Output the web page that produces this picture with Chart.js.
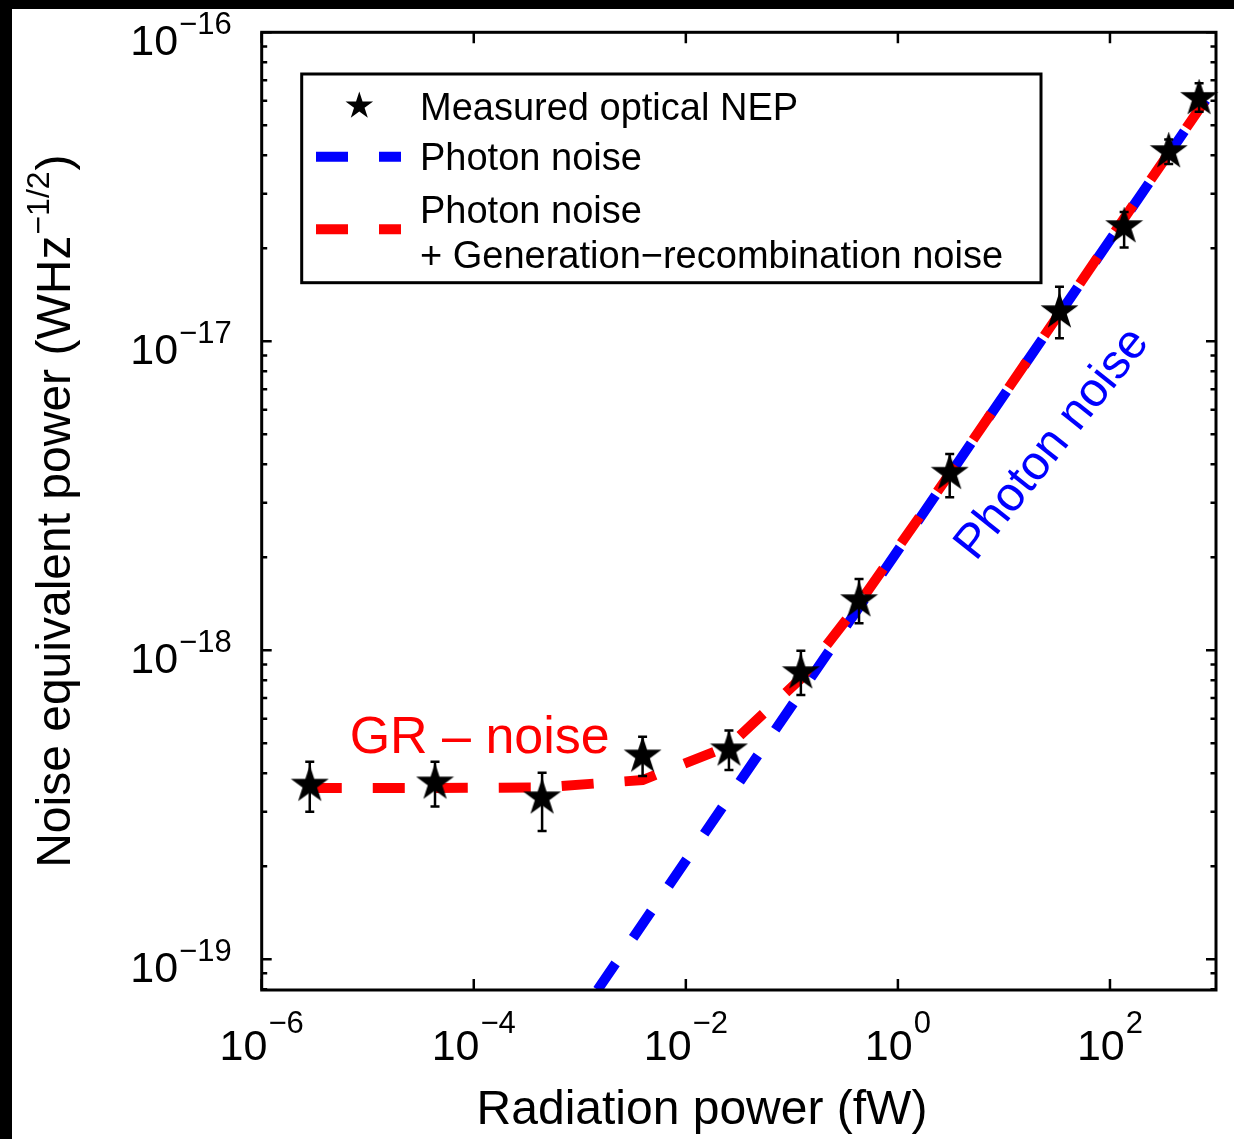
<!DOCTYPE html>
<html>
<head>
<meta charset="utf-8">
<title>Optical NEP</title>
<script src="https://cdn.jsdelivr.net/npm/chart.js@4.4.0/dist/chart.umd.min.js"></script>
<style>
  html, body { margin: 0; padding: 0; background: #fff; overflow: hidden; width: 1234px; height: 1139px; }
  #nepChart { position: absolute; left: 0; top: 0; width: 1234px; height: 1139px; display: block; }
</style>
</head>
<body>
<canvas id="nepChart" width="1234" height="1139"></canvas>
<script>
// measured optical NEP, radiation power in fW, NEP in W/Hz^0.5
const powerFW = [2.84e-6, 4.31e-5, 4.41e-4, 3.91e-3, 0.0255, 0.1216, 0.43, 3.08, 33.4, 136, 358, 693];
const nepMeasured = [3.66e-19, 3.72e-19, 3.33e-19, 4.55e-19, 4.76e-19, 8.46e-19, 1.447e-18, 3.74e-18, 1.247e-17, 2.35e-17, 4.11e-17, 6.11e-17];
const nepErrHigh = [4.36e-19, 4.36e-19, 4.01e-19, 5.25e-19, 5.5e-19, 9.97e-19, 1.70e-18, 4.32e-18, 1.5e-17, 2.62e-17, 4.5e-17, 6.84e-17];
const nepErrLow = [3.0e-19, 3.12e-19, 2.6e-19, 3.92e-19, 4.1e-19, 7.17e-19, 1.223e-18, 3.13e-18, 1.023e-17, 2.01e-17, 3.75e-17, 5.53e-17];

// photon noise only
const photonPower = [1.47e-3, 800];
const photonNep = [7.96e-20, 6.04e-17];

// photon noise + generation-recombination noise
const totalPower = [2.84e-6, 4.31e-5, 4.41e-4, 3.91e-3, 0.0255, 0.1216, 0.43, 3.08, 33.4, 136, 358, 800];
const totalNep = [3.58e-19, 3.58e-19, 3.6e-19, 3.8e-19, 4.9e-19, 8.1e-19, 1.42e-18, 3.72e-18, 1.23e-17, 2.5e-17, 4.05e-17, 6.06e-17];

// axis ticks (exponents of ten)
const xTickExps = [-6, -4, -2, 0, 2];
const yTickExps = [-19, -18, -17, -16];
const xTickLabels = ["\u22126", "\u22124", "\u22122", "0", "2"];
const yTickLabels = ["\u221219", "\u221218", "\u221217", "\u221216"];

const FONT = "'Liberation Sans', Arial, Helvetica, sans-serif";

function starPath(g, cx, cy, R) {
  const r = R * 0.382;
  g.beginPath();
  for (let i = 0; i < 10; i++) {
    const a = -Math.PI / 2 + i * Math.PI / 5;
    const rr = i % 2 ? r : R;
    g.lineTo(cx + rr * Math.cos(a), cy + rr * Math.sin(a));
  }
  g.closePath();
}

function makeStar(R) {
  const c = document.createElement("canvas");
  const s = Math.ceil(2 * R + 4);
  c.width = s; c.height = s;
  const g = c.getContext("2d");
  starPath(g, s / 2, s / 2, R);
  g.fillStyle = "#000";
  g.fill();
  g.lineWidth = 1.5;
  g.strokeStyle = "#000";
  g.stroke();
  return c;
}

// "10" with a superscript exponent
function drawPow(ctx, sup, x, y, align, baseSize, supSize, rise) {
  ctx.font = `${baseSize}px ${FONT}`;
  const wb = ctx.measureText("10").width;
  ctx.font = `${supSize}px ${FONT}`;
  const ws = ctx.measureText(sup).width;
  const total = wb + ws + 1;
  const left = align === "right" ? x - total : align === "center" ? x - total / 2 : x;
  ctx.textAlign = "left";
  ctx.textBaseline = "alphabetic";
  ctx.font = `${baseSize}px ${FONT}`;
  ctx.fillText("10", left, y);
  ctx.font = `${supSize}px ${FONT}`;
  ctx.fillText(sup, left + wb + 1, y - rise);
}

const errorBars = {
  id: "errorBars",
  afterDatasetsDraw(chart) {
    const { ctx, scales: { x, y } } = chart;
    ctx.save();
    ctx.strokeStyle = "#000";
    ctx.lineWidth = 2.5;
    powerFW.forEach((p, i) => {
      const px = x.getPixelForValue(p);
      const top = y.getPixelForValue(nepErrHigh[i]);
      const bot = y.getPixelForValue(nepErrLow[i]);
      ctx.beginPath();
      ctx.moveTo(px, top); ctx.lineTo(px, bot);
      ctx.moveTo(px - 4.5, top); ctx.lineTo(px + 4.5, top);
      ctx.moveTo(px - 4.5, bot); ctx.lineTo(px + 4.5, bot);
      ctx.stroke();
    });
    ctx.restore();
  }
};

const decor = {
  id: "decor",
  beforeDraw(chart) {
    const { ctx, width, height } = chart;
    ctx.save();
    ctx.fillStyle = "#fff";
    ctx.fillRect(0, 0, width, height);
    ctx.fillStyle = "#000";
    ctx.fillRect(0, 0, width, 9);
    ctx.fillRect(0, 0, 12, height);
    ctx.restore();
  },
  afterDraw(chart) {
    const { ctx, chartArea: a, scales: { x, y } } = chart;
    ctx.save();
    ctx.strokeStyle = "#000";
    ctx.fillStyle = "#000";

    // ticks, inward on all four sides
    ctx.lineWidth = 2.5;
    ctx.beginPath();
    xTickExps.forEach(e => {
      const px = x.getPixelForValue(Math.pow(10, e));
      ctx.moveTo(px, a.bottom); ctx.lineTo(px, a.bottom - 11);
      ctx.moveTo(px, a.top); ctx.lineTo(px, a.top + 11);
    });
    for (let e = -20; e <= -16; e++) {
      for (let k = 1; k <= 9; k++) {
        const v = k * Math.pow(10, e);
        if (v < y.min * 0.999 || v > y.max * 1.001) continue;
        const py = y.getPixelForValue(v);
        const len = k === 1 ? 10 : 5.5;
        ctx.moveTo(a.left, py); ctx.lineTo(a.left + len, py);
        ctx.moveTo(a.right, py); ctx.lineTo(a.right - len, py);
      }
    }
    ctx.stroke();

    // frame
    ctx.lineWidth = 3;
    ctx.strokeRect(a.left, a.top, a.right - a.left, a.bottom - a.top);

    // tick labels
    xTickExps.forEach((e, i) => {
      const px = x.getPixelForValue(Math.pow(10, e));
      drawPow(ctx, xTickLabels[i], px, a.bottom + 70, "center", 43, 31, 27);
    });
    yTickExps.forEach((e, i) => {
      const py = y.getPixelForValue(Math.pow(10, e));
      drawPow(ctx, yTickLabels[i], a.left - 30, py + 22.5, "right", 43, 31, 21);
    });

    // axis titles
    ctx.font = `48px ${FONT}`;
    ctx.textAlign = "center";
    ctx.textBaseline = "alphabetic";
    ctx.fillText("Radiation power (fW)", 702, a.bottom + 134);

    ctx.save();
    const main = "Noise equivalent power (WHz", sup = "\u22121/2", tail = ")";
    ctx.font = `48px ${FONT}`;
    const w1 = ctx.measureText(main).width, w3 = ctx.measureText(tail).width;
    ctx.font = `32px ${FONT}`;
    const w2 = ctx.measureText(sup).width;
    const tot = w1 + w2 + w3 + 2;
    ctx.translate(70, (a.top + a.bottom) / 2);
    ctx.rotate(-Math.PI / 2);
    ctx.textAlign = "left";
    ctx.font = `48px ${FONT}`;
    ctx.fillText(main, -tot / 2, 0);
    ctx.fillText(tail, -tot / 2 + w1 + w2 + 2, 0);
    ctx.font = `32px ${FONT}`;
    ctx.fillText(sup, -tot / 2 + w1 + 1, -21);
    ctx.restore();

    // annotations
    ctx.font = `52px ${FONT}`;
    ctx.fillStyle = "#ff0000";
    ctx.textAlign = "left";
    ctx.fillText("GR \u2013 noise", x.getPixelForValue(6.75e-6), y.getPixelForValue(4.66e-19));

    ctx.save();
    ctx.translate(x.getPixelForValue(28.8), y.getPixelForValue(4.65e-18));
    ctx.rotate(-51.5 * Math.PI / 180);
    ctx.font = `48px ${FONT}`;
    ctx.fillStyle = "#0000ff";
    ctx.textAlign = "center";
    ctx.textBaseline = "middle";
    ctx.fillText("Photon noise", 0, 0);
    ctx.restore();

    // legend
    ctx.fillStyle = "#fff";
    ctx.fillRect(301.7, 74, 739.3, 208.7);
    ctx.lineWidth = 3;
    ctx.strokeStyle = "#000";
    ctx.strokeRect(301.7, 74, 739.3, 208.7);
    ctx.fillStyle = "#000";
    starPath(ctx, 359.3, 106, 14.5);
    ctx.fill();
    ctx.lineWidth = 10;
    ctx.setLineDash([32, 31]);
    ctx.lineCap = "butt";
    ctx.strokeStyle = "#0000ff";
    ctx.beginPath(); ctx.moveTo(316, 156.7); ctx.lineTo(401, 156.7); ctx.stroke();
    ctx.strokeStyle = "#ff0000";
    ctx.beginPath(); ctx.moveTo(316, 229.3); ctx.lineTo(401, 229.3); ctx.stroke();
    ctx.setLineDash([]);
    ctx.fillStyle = "#000";
    ctx.font = `38px ${FONT}`;
    ctx.textAlign = "left";
    ctx.textBaseline = "alphabetic";
    ctx.fillText("Measured optical NEP", 420, 120);
    ctx.fillText("Photon noise", 420, 170);
    ctx.fillText("Photon noise", 420, 223);
    ctx.fillText("+ Generation\u2212recombination noise", 420, 268);

    ctx.restore();
  }
};

const starImg = makeStar(17.5);

new Chart(document.getElementById("nepChart"), {
  type: "scatter",
  data: {
    datasets: [
      {
        label: "Measured optical NEP",
        data: powerFW.map((p, i) => ({ x: p, y: nepMeasured[i] })),
        pointStyle: starImg,
        pointRadius: 17,
        showLine: false,
        clip: false
      },
      {
        label: "Photon noise + Generation-recombination noise",
        data: totalPower.map((p, i) => ({ x: p, y: totalNep[i] })),
        showLine: true,
        borderColor: "#ff0000",
        borderWidth: 10,
        borderDash: [32, 31],
        pointRadius: 0,
        clip: 0
      },
      {
        label: "Photon noise",
        data: photonPower.map((p, i) => ({ x: p, y: photonNep[i] })),
        showLine: true,
        borderColor: "#0000ff",
        borderWidth: 10,
        borderDash: [32, 31],
        pointRadius: 0,
        clip: 0
      }
    ]
  },
  options: {
    responsive: false,
    maintainAspectRatio: false,
    animation: false,
    devicePixelRatio: 1,
    layout: { padding: { left: 261.7, top: 32.3, right: 14, bottom: 149 } },
    scales: {
      x: { type: "logarithmic", min: 1e-6, max: 1e3, display: false },
      y: { type: "logarithmic", min: 7.95e-20, max: 1e-16, display: false }
    },
    plugins: {
      legend: { display: false },
      tooltip: { enabled: false }
    }
  },
  plugins: [decor, errorBars]
});
</script>
</body>
</html>
